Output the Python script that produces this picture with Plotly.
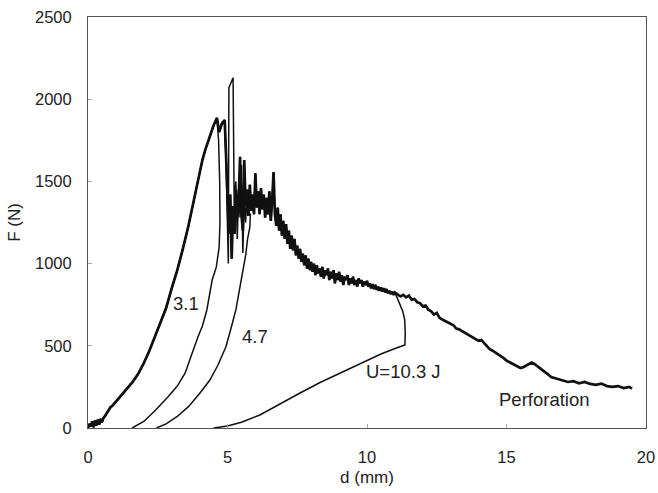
import plotly.graph_objects as go

# ---- Shared loading branch (d in mm, F in N) ----
load_d = [0.0, 0.05, 0.1, 0.15, 0.2, 0.25, 0.3, 0.35, 0.4, 0.45, 0.5, 0.55, 0.6, 0.7, 0.8, 0.9,
          1.0, 1.2, 1.4, 1.6, 1.8, 2.0, 2.2, 2.4, 2.6, 2.8, 3.0, 3.2, 3.4, 3.6, 3.8, 4.0,
          4.1, 4.2, 4.3, 4.4, 4.5, 4.62]
load_F = [0, 25, 10, 40, 5, 45, 15, 50, 20, 55, 35, 60, 70, 100, 125, 140,
          160, 200, 240, 280, 330, 395, 470, 560, 640, 730, 850, 960, 1090, 1230, 1390, 1560,
          1630, 1690, 1740, 1800, 1840, 1886]

# ---- Perforation: post-peak branch ----
perf_d = [4.7, 4.8, 4.9, 4.95, 5.0, 5.05, 5.1, 5.15, 5.2, 5.25, 5.3, 5.35, 5.4, 5.45, 5.5,
          5.55, 5.6, 5.65, 5.7, 5.75, 5.8, 5.85, 5.9, 5.95, 6.0, 6.05, 6.1, 6.15, 6.2, 6.25,
          6.3, 6.35, 6.4, 6.45, 6.5, 6.55, 6.6, 6.65, 6.7, 6.75, 6.8, 6.85, 6.9, 6.95, 7.0,
          7.05, 7.1, 7.15, 7.2, 7.25, 7.3, 7.35, 7.4, 7.45, 7.5, 7.55, 7.6, 7.65, 7.7, 7.75,
          7.8, 7.85, 7.9, 7.95, 8.0, 8.05, 8.1, 8.15, 8.2, 8.25, 8.3, 8.35, 8.4, 8.45, 8.5,
          8.55, 8.6, 8.65, 8.7, 8.75, 8.8, 8.85, 8.9, 8.95, 9.0, 9.05, 9.1, 9.15, 9.2, 9.25,
          9.3, 9.35, 9.4, 9.45, 9.5, 9.55, 9.6, 9.65, 9.7, 9.75, 9.8, 9.85, 9.9, 9.95, 10.0,
          10.05, 10.1, 10.15, 10.2, 10.25, 10.3, 10.35, 10.4, 10.45, 10.5, 10.55, 10.6, 10.65,
          10.7, 10.75, 10.8, 10.85, 10.9, 10.95, 11.0, 11.1, 11.2, 11.3, 11.4, 11.5, 11.6, 11.7,
          11.8, 11.9, 12.0, 12.1, 12.2, 12.3, 12.4, 12.5, 12.6, 12.7, 12.8, 12.9, 13.0, 13.1,
          13.2, 13.3, 13.4, 13.5, 13.6, 13.7, 13.8, 13.9, 14.0, 14.1, 14.2, 14.3, 14.4, 14.5,
          14.6, 14.7, 14.8, 14.9, 15.0, 15.2, 15.4, 15.5, 15.6, 15.7, 15.8, 15.9, 16.0, 16.1,
          16.2, 16.3, 16.4, 16.5, 16.6, 16.7, 16.8, 16.9, 17.0, 17.2, 17.4, 17.6, 17.8, 18.0,
          18.2, 18.4, 18.6, 18.8, 19.0, 19.2, 19.4, 19.5]
perf_F = [1800, 1850, 1873, 1650, 1400, 1180, 1420, 1030, 1350, 1180, 1450, 1280, 1380, 1650, 1300,
          1200, 1630, 1350, 1450, 1290, 1480, 1320, 1420, 1300, 1550, 1340, 1440, 1300, 1460, 1330,
          1420, 1280, 1400, 1300, 1440, 1260, 1380, 1557, 1300, 1230, 1340, 1200, 1300, 1170, 1260,
          1150, 1240, 1120, 1200, 1090, 1170, 1080, 1150, 1050, 1110, 1030, 1090, 1010, 1060, 990,
          1050, 970, 1030, 960, 1010, 950, 1000, 930, 990, 940, 970, 920, 980, 910, 960,
          930, 970, 900, 950, 910, 960, 880, 940, 900, 950, 890, 930, 870, 920, 900,
          930, 870, 910, 880, 920, 870, 900, 860, 910, 880, 900, 860, 890, 870, 895,
          860, 880, 850, 875, 845, 870, 840, 860, 835, 855, 830, 850, 825,
          845, 820, 835, 815, 830, 810, 825, 815, 800, 810, 795, 805, 780, 785,
          765, 760, 740, 745, 720, 710, 690, 700, 670, 660, 650, 645, 630, 625,
          605, 600, 590, 580, 570, 560, 550, 545, 530, 535, 515, 500, 480, 470,
          460, 450, 440, 425, 410, 390, 372, 365, 370, 380, 388, 398, 390, 378,
          365, 350, 340, 325, 310, 305, 300, 295, 290, 280, 285, 272, 280, 268,
          262, 270, 255, 250, 255, 243, 250, 240]

# ---- 3.1 J unloading ----
u31_d = [4.68, 4.72, 4.73, 4.7, 4.6, 4.45, 4.26, 4.1, 3.94, 3.7, 3.48, 3.2, 2.87, 2.4, 2.0, 1.58]
u31_F = [1750, 1500, 1250, 1100, 980, 900, 718, 620, 553, 440, 333, 255, 190, 105, 40, 0]

# ---- 4.7 J post-peak + unloading ----
u47_d = [4.7, 4.8, 4.9, 4.95, 5.0, 5.03, 5.05, 5.2, 5.24, 5.3, 5.35, 5.4, 5.45, 5.5, 5.55,
         5.6, 5.65, 5.7, 5.75, 5.82, 5.8, 5.72, 5.65, 5.5, 5.3, 5.1, 4.94, 4.65, 4.37, 4.0,
         3.6, 3.2, 2.8, 2.45]
u47_F = [1820, 1860, 1873, 1600, 1200, 1000, 2070, 2130, 1350, 1500, 1150, 1450, 1280, 1600, 1064,
         1400, 1250, 1420, 1300, 1300, 1220, 1150, 1050, 900, 718, 590, 493, 380, 292, 210,
         130, 70, 25, 0]

# ---- 10.3 J unloading (after following the perforation curve to 11.0 mm) ----
u103_d = [11.15, 11.28, 11.35, 11.37, 11.36, 11.1, 10.5, 10.0, 9.03, 8.3, 7.6, 6.9, 6.16, 5.5, 5.0, 4.5]
u103_F = [760, 710, 660, 580, 505, 490, 450, 410, 335, 275, 213, 150, 79, 35, 12, 0]

labels = ["3.1", "4.7", "U=10.3 J", "Perforation"]
label_d = [3.51, 6.0, 11.3, 16.35]
label_F = [760, 555, 341, 176]

x_ticks = [0, 5, 10, 15, 20]
y_ticks = [0, 500, 1000, 1500, 2000, 2500]

cut = perf_d.index(11.0) + 1

curves = [
    (load_d + perf_d, load_F + perf_F, 2.7),
    (load_d + u31_d, load_F + u31_F, 1.5),
    (load_d + u47_d, load_F + u47_F, 1.5),
    (load_d + perf_d[:cut] + u103_d, load_F + perf_F[:cut] + u103_F, 1.5),
]

FONT = "Liberation Sans, Arial, sans-serif"

fig = go.Figure()
for xs, ys, w in curves:
    fig.add_trace(go.Scatter(x=xs, y=ys, mode="lines",
                             line=dict(color="#111111", width=w),
                             showlegend=False, hoverinfo="skip"))

for t, xd, yf in zip(labels, label_d, label_F):
    fig.add_annotation(x=xd, y=yf, text=t, showarrow=False,
                       font=dict(size=18.5, color="#222222", family=FONT))

axis_common = dict(showline=True, linecolor="#555555", linewidth=1, mirror=True,
                   ticks="inside", ticklen=4, tickcolor="#aaaaaa",
                   showgrid=False, zeroline=False, automargin=False,
                   tickfont=dict(size=16.5, color="#222222", family=FONT))

fig.update_xaxes(range=[0, 20], tickvals=x_ticks, ticklabelstandoff=14,
                 title=dict(text="d (mm)", standoff=6,
                            font=dict(size=17, color="#222222", family=FONT)),
                 **axis_common)
fig.update_yaxes(range=[0, 2500], tickvals=y_ticks, ticklabelstandoff=12,
                 title=dict(text="F (N)", standoff=10,
                            font=dict(size=17, color="#222222", family=FONT)),
                 **axis_common)

fig.update_layout(width=658, height=493,
                  margin=dict(l=88, r=12, t=17, b=65),
                  plot_bgcolor="white", paper_bgcolor="white")

fig.write_html("out.html")
